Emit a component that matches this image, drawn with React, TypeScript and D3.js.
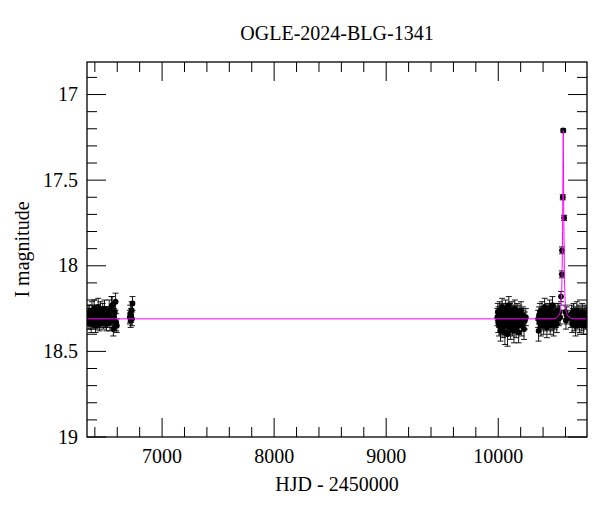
import React from "react";
import * as d3 from "d3";

// observations: [HJD-2450000, I mag, error]
const season2016: number[][] = [
  [6335, 18.31, 0.04], [6341, 18.28, 0.05], [6346, 18.33, 0.04], [6350, 18.3, 0.05], [6354, 18.27, 0.04],
  [6359, 18.32, 0.05], [6363, 18.29, 0.04], [6367, 18.34, 0.05], [6371, 18.3, 0.04], [6374, 18.26, 0.05],
  [6378, 18.31, 0.04], [6382, 18.28, 0.05], [6386, 18.33, 0.04], [6390, 18.3, 0.04], [6394, 18.25, 0.05],
  [6398, 18.32, 0.04], [6402, 18.29, 0.05], [6406, 18.35, 0.04], [6410, 18.31, 0.05], [6414, 18.27, 0.04],
  [6418, 18.3, 0.05], [6422, 18.33, 0.04], [6426, 18.28, 0.05], [6430, 18.24, 0.05], [6434, 18.31, 0.04],
  [6438, 18.29, 0.05], [6442, 18.34, 0.04], [6446, 18.3, 0.04], [6450, 18.26, 0.05], [6455, 18.32, 0.04],
  [6460, 18.29, 0.05], [6465, 18.31, 0.04], [6470, 18.27, 0.05], [6475, 18.33, 0.04], [6480, 18.3, 0.05],
  [6486, 18.25, 0.05], [6492, 18.32, 0.04], [6498, 18.29, 0.05], [6504, 18.34, 0.04], [6510, 18.31, 0.05],
  [6516, 18.28, 0.04], [6522, 18.3, 0.05], [6528, 18.26, 0.06], [6534, 18.33, 0.05], [6540, 18.3, 0.04],
  [6548, 18.24, 0.06], [6555, 18.23, 0.05], [6560, 18.31, 0.05], [6565, 18.37, 0.04], [6572, 18.3, 0.05],
  [6578, 18.27, 0.06], [6585, 18.21, 0.05], [6590, 18.33, 0.05], [6596, 18.35, 0.04],
];

const season2016b: number[][] = [
  [6712, 18.3, 0.04], [6716, 18.28, 0.05], [6720, 18.32, 0.04], [6724, 18.29, 0.04],
  [6728, 18.26, 0.05], [6732, 18.31, 0.04], [6736, 18.22, 0.04],
];

const season2023: number[][] = [
  [9992, 18.3, 0.05], [9996, 18.27, 0.05], [10000, 18.33, 0.06], [10003, 18.29, 0.05], [10007, 18.35, 0.06],
  [10010, 18.31, 0.05], [10013, 18.26, 0.05], [10017, 18.32, 0.06], [10020, 18.38, 0.06], [10024, 18.3, 0.05],
  [10027, 18.28, 0.05], [10031, 18.34, 0.06], [10034, 18.24, 0.05], [10038, 18.31, 0.05], [10041, 18.36, 0.06],
  [10045, 18.29, 0.05], [10048, 18.33, 0.06], [10052, 18.27, 0.05], [10055, 18.31, 0.05], [10059, 18.39, 0.07],
  [10062, 18.3, 0.05], [10066, 18.25, 0.05], [10069, 18.32, 0.06], [10073, 18.35, 0.06], [10076, 18.29, 0.05],
  [10080, 18.31, 0.05], [10083, 18.4, 0.07], [10087, 18.28, 0.05], [10090, 18.33, 0.06], [10094, 18.23, 0.05],
  [10097, 18.3, 0.05], [10101, 18.34, 0.06], [10104, 18.27, 0.05], [10108, 18.32, 0.05], [10111, 18.37, 0.06],
  [10115, 18.29, 0.05], [10118, 18.31, 0.05], [10122, 18.26, 0.05], [10126, 18.35, 0.06], [10129, 18.3, 0.05],
  [10133, 18.33, 0.06], [10137, 18.28, 0.05], [10140, 18.38, 0.07], [10144, 18.31, 0.05], [10148, 18.25, 0.05],
  [10152, 18.32, 0.06], [10156, 18.29, 0.05], [10160, 18.36, 0.06], [10164, 18.3, 0.05], [10168, 18.27, 0.05],
  [10172, 18.34, 0.06], [10177, 18.31, 0.05], [10182, 18.39, 0.06], [10187, 18.28, 0.05], [10192, 18.33, 0.05],
  [10197, 18.3, 0.05], [10203, 18.26, 0.05], [10209, 18.35, 0.06], [10215, 18.31, 0.05], [10222, 18.29, 0.05],
  [10230, 18.37, 0.06], [10238, 18.32, 0.05], [10246, 18.3, 0.05],
];

const season2024: number[][] = [
  [10356, 18.31, 0.05], [10360, 18.38, 0.06], [10364, 18.29, 0.05], [10368, 18.33, 0.05], [10372, 18.27, 0.05],
  [10377, 18.31, 0.05], [10381, 18.35, 0.06], [10386, 18.3, 0.05], [10390, 18.26, 0.05], [10395, 18.32, 0.05],
  [10400, 18.29, 0.05], [10405, 18.34, 0.06], [10410, 18.31, 0.05], [10414, 18.24, 0.05], [10419, 18.3, 0.05],
  [10424, 18.33, 0.05], [10429, 18.28, 0.05], [10434, 18.36, 0.06], [10439, 18.31, 0.05], [10444, 18.27, 0.05],
  [10449, 18.32, 0.05], [10454, 18.3, 0.05], [10459, 18.25, 0.05], [10464, 18.34, 0.06], [10469, 18.31, 0.05],
  [10474, 18.28, 0.05], [10479, 18.33, 0.05], [10484, 18.23, 0.05], [10489, 18.3, 0.05], [10494, 18.35, 0.06],
  [10499, 18.29, 0.05], [10504, 18.32, 0.05], [10510, 18.27, 0.05], [10516, 18.31, 0.05], [10522, 18.34, 0.05],
  [10528, 18.29, 0.05], [10534, 18.26, 0.04], [10540, 18.31, 0.04], [10546, 18.27, 0.04], [10552, 18.3, 0.04],
  [10560, 18.18, 0.03], [10567, 18.05, 0.02], [10569, 17.91, 0.02], [10576, 17.6, 0.015], [10580, 17.21, 0.01],
  [10588, 17.72, 0.015], [10599, 18.27, 0.04], [10604, 18.32, 0.05], [10610, 18.29, 0.05],
  [10648, 18.31, 0.05], [10654, 18.28, 0.05], [10660, 18.34, 0.05], [10666, 18.3, 0.05], [10672, 18.27, 0.05],
  [10678, 18.33, 0.05], [10684, 18.29, 0.05], [10690, 18.35, 0.06], [10696, 18.31, 0.05], [10702, 18.26, 0.05],
  [10708, 18.32, 0.05], [10714, 18.3, 0.05], [10720, 18.28, 0.05], [10726, 18.34, 0.05], [10732, 18.31, 0.05],
  [10738, 18.29, 0.05], [10744, 18.33, 0.05], [10750, 18.27, 0.05], [10756, 18.31, 0.05], [10762, 18.35, 0.05],
  [10768, 18.3, 0.05], [10774, 18.28, 0.05], [10780, 18.32, 0.05], [10786, 18.29, 0.05], [10792, 18.31, 0.05],
];

// model curve: [HJD-2450000, I mag]
const modelCurve: number[][] = [
  [6300, 18.31], [10480, 18.31], [10505, 18.308], [10528, 18.3], [10548, 18.28], [10560, 18.23],
  [10566, 18.15], [10570, 18.02], [10573, 17.85], [10576, 17.62], [10578, 17.4], [10580, 17.21],
  [10582, 17.4], [10584, 17.62], [10587, 17.85], [10590, 18.02], [10594, 18.15], [10600, 18.23],
  [10612, 18.28], [10632, 18.3], [10655, 18.308], [10680, 18.31], [10850, 18.31],
];

const xMajor = [7000, 8000, 9000, 10000];
const yMajor = [17, 17.5, 18, 18.5, 19];
const titleText = "OGLE-2024-BLG-1341";

const W = 600;
const H = 512;
const left = 87, right = 587, top = 62, bottom = 437;
const font = "'Liberation Serif', 'Times New Roman', serif";

export default function App() {
  const x = d3.scaleLinear().domain([6330, 10792]).range([left, right]);
  const y = d3.scaleLinear().domain([16.81, 19.0]).range([top, bottom]);

  const xMinor = d3.range(6400, 10800, 200).filter((v) => !xMajor.includes(v));
  const yMinor = d3.range(16.9, 19.0, 0.1).map((v) => +v.toFixed(1)).filter((v) => !yMajor.includes(v));

  const allPoints = [...season2016, ...season2016b, ...season2023, ...season2024];

  const modelPath = d3
    .line<number[]>()
    .x((d) => x(d[0]))
    .y((d) => y(d[1]))
    .curve(d3.curveMonotoneX)(modelCurve);

  const majLen = 19, minLen = 10;

  return (
    <svg width={W} height={H} style={{ position: "absolute", left: 0, top: 0 }} fontFamily={font}>
      <rect width={W} height={H} fill="#fff" />
      <defs>
        <clipPath id="plot">
          <rect x={left} y={top} width={right - left} height={bottom - top} />
        </clipPath>
      </defs>

      <g stroke="#000" strokeWidth={1}>
        {xMajor.map((v) => (
          <g key={"xM" + v}>
            <line x1={x(v)} x2={x(v)} y1={bottom} y2={bottom - majLen} />
            <line x1={x(v)} x2={x(v)} y1={top} y2={top + majLen} />
          </g>
        ))}
        {xMinor.map((v) => (
          <g key={"xm" + v}>
            <line x1={x(v)} x2={x(v)} y1={bottom} y2={bottom - minLen} />
            <line x1={x(v)} x2={x(v)} y1={top} y2={top + minLen} />
          </g>
        ))}
        {yMajor.map((v) => (
          <g key={"yM" + v}>
            <line x1={left} x2={left + majLen} y1={y(v)} y2={y(v)} />
            <line x1={right} x2={right - majLen} y1={y(v)} y2={y(v)} />
          </g>
        ))}
        {yMinor.map((v) => (
          <g key={"ym" + v}>
            <line x1={left} x2={left + minLen} y1={y(v)} y2={y(v)} />
            <line x1={right} x2={right - minLen} y1={y(v)} y2={y(v)} />
          </g>
        ))}
      </g>

      <g clipPath="url(#plot)">
        {allPoints.map((d, i) => {
          const cx = x(d[0]);
          const y1 = y(d[1] - d[2]);
          const y2 = y(d[1] + d[2]);
          return (
            <g key={i} stroke="#000" strokeWidth={0.9}>
              <line x1={cx} x2={cx} y1={y1} y2={y2} />
              <line x1={cx - 3} x2={cx + 3} y1={y1} y2={y1} />
              <line x1={cx - 3} x2={cx + 3} y1={y2} y2={y2} />
              <circle cx={cx} cy={y(d[1])} r={2.9} fill="#000" stroke="none" />
            </g>
          );
        })}
        <path d={modelPath ?? ""} fill="none" stroke="#ff00ff" strokeWidth={1} />
      </g>

      <rect x={left} y={top} width={right - left} height={bottom - top} fill="none" stroke="#000" strokeWidth={1.3} />

      <g fontSize={20} fill="#000">
        {xMajor.map((v) => (
          <text key={"xl" + v} x={x(v)} y={463} textAnchor="middle">
            {v}
          </text>
        ))}
        {yMajor.map((v) => (
          <text key={"yl" + v} x={78} y={y(v) + 6.5} textAnchor="end">
            {v}
          </text>
        ))}
        <text x={(left + right) / 2} y={491} textAnchor="middle">
          HJD - 2450000
        </text>
        <text transform={`translate(29,${(top + bottom) / 2}) rotate(-90)`} textAnchor="middle">
          I magnitude
        </text>
        <text x={(left + right) / 2} y={40} textAnchor="middle">
          {titleText}
        </text>
      </g>
    </svg>
  );
}
